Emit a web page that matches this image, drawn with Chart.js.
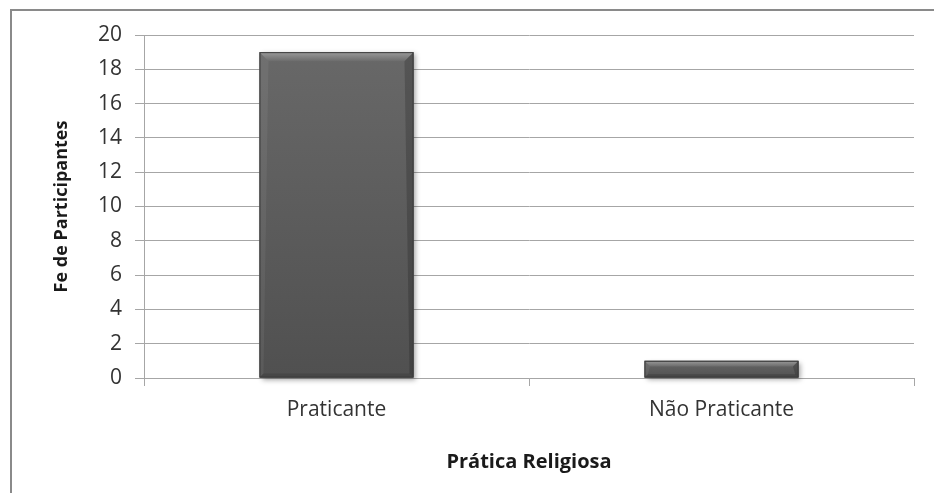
<!DOCTYPE html>
<html>
<head>
<meta charset="utf-8">
<script src="https://cdn.jsdelivr.net/npm/chart.js@4"></script>
<style>
  html, body { margin: 0; padding: 0; background: #fff; }
  #wrap { width: 934px; height: 493px; position: relative; }
</style>
</head>
<body>
<div id="wrap"><canvas id="religionChart"></canvas></div>
<script>
const categories = ['Praticante', 'Não Praticante'];
const participants = [19, 1];
const yTitle = 'Fe de Participantes';
const xTitle = 'Prática Religiosa';

const FONT = "'Open Sans', sans-serif";
const GRID = '#a6a6a6';

// outer frame of the chart box
const frame = {
  id: 'frame',
  beforeDraw(chart) {
    const { ctx } = chart;
    ctx.save();
    ctx.fillStyle = '#fff';
    ctx.fillRect(0, 0, chart.width, chart.height);
    ctx.strokeStyle = '#8a8a8a';
    ctx.lineWidth = 2;
    ctx.strokeRect(11, 10, chart.width + 20, chart.height + 20);
    ctx.restore();
  }
};

// beveled look on top of the plain bars
const bevel = {
  id: 'bevel',
  afterDatasetsDraw(chart) {
    const { ctx } = chart;
    const bars = chart.getDatasetMeta(0).data;
    bars.forEach(bar => {
      const x0 = bar.x - bar.width / 2;
      const x1 = bar.x + bar.width / 2;
      const top = bar.y;
      const bottom = bar.base;
      const h = bottom - top;
      const b = Math.min(9, h / 3);
      const s = Math.min(4, h / 5);

      ctx.save();
      // soft shadow
      ctx.shadowColor = 'rgba(0,0,0,0.35)';
      ctx.shadowBlur = 5;
      ctx.shadowOffsetX = 2;
      ctx.shadowOffsetY = 2;
      const body = ctx.createLinearGradient(0, top, 0, bottom);
      body.addColorStop(0, '#686868');
      body.addColorStop(1, '#505050');
      ctx.fillStyle = body;
      ctx.fillRect(x0, top, x1 - x0, h);
      ctx.restore();

      ctx.save();
      // top facet
      const tg = ctx.createLinearGradient(0, top, 0, top + b);
      tg.addColorStop(0, '#9a9a9a');
      tg.addColorStop(1, '#6c6c6c');
      ctx.fillStyle = tg;
      ctx.beginPath();
      ctx.moveTo(x0, top);
      ctx.lineTo(x1, top);
      ctx.lineTo(x1 - b, top + b);
      ctx.lineTo(x0 + b, top + b);
      ctx.closePath();
      ctx.fill();

      // bottom facet
      ctx.fillStyle = '#474747';
      ctx.beginPath();
      ctx.moveTo(x0, bottom);
      ctx.lineTo(x1, bottom);
      ctx.lineTo(x1 - s, bottom - s);
      ctx.lineTo(x0 + s, bottom - s);
      ctx.closePath();
      ctx.fill();

      // side facets
      ctx.fillStyle = 'rgba(255,255,255,0.06)';
      ctx.beginPath();
      ctx.moveTo(x0, top);
      ctx.lineTo(x0 + b, top + b);
      ctx.lineTo(x0 + s, bottom - s);
      ctx.lineTo(x0, bottom);
      ctx.closePath();
      ctx.fill();
      ctx.fillStyle = 'rgba(0,0,0,0.18)';
      ctx.beginPath();
      ctx.moveTo(x1, top);
      ctx.lineTo(x1 - b, top + b);
      ctx.lineTo(x1 - s, bottom - s);
      ctx.lineTo(x1, bottom);
      ctx.closePath();
      ctx.fill();

      ctx.strokeStyle = '#3c3c3c';
      ctx.lineWidth = 1;
      ctx.strokeRect(x0 + 0.5, top + 0.5, x1 - x0 - 1, h - 1);
      ctx.restore();
    });
  }
};

new Chart(document.getElementById('religionChart'), {
  type: 'bar',
  data: {
    labels: categories,
    datasets: [{
      label: yTitle,
      data: participants,
      backgroundColor: '#5c5c5c',
      borderWidth: 0,
      categoryPercentage: 1,
      barPercentage: 0.4
    }]
  },
  options: {
    responsive: true,
    maintainAspectRatio: false,
    animation: false,
    layout: { padding: { top: 35, right: 20, left: 0, bottom: 0 } },
    plugins: {
      legend: { display: false },
      tooltip: { enabled: false }
    },
    scales: {
      x: {
        offset: true,
        afterFit(scale) { scale.height = 115; },
        grid: {
          offset: true,
          drawOnChartArea: false,
          color: GRID,
          tickLength: 8,
          tickColor: GRID
        },
        border: { color: GRID, width: 1 },
        ticks: {
          color: '#333',
          padding: 11,
          font: { family: FONT, size: 21 }
        },
        title: {
          display: true,
          text: xTitle,
          color: '#1a1a1a',
          padding: { bottom: 19 },
          font: { family: FONT, size: 20, weight: 'bold' }
        }
      },
      y: {
        min: 0,
        max: 20,
        afterFit(scale) { scale.width = 144; },
        grid: {
          color: GRID,
          tickLength: 9,
          tickColor: GRID
        },
        border: { color: GRID, width: 1 },
        ticks: {
          stepSize: 2,
          color: '#333',
          padding: 13,
          font: { family: FONT, size: 21 }
        },
        title: {
          display: true,
          text: yTitle,
          color: '#1a1a1a',
          padding: { top: 51 },
          font: { family: FONT, size: 18, weight: 'bold' }
        }
      }
    }
  },
  plugins: [frame, bevel]
});
</script>
</body>
</html>
